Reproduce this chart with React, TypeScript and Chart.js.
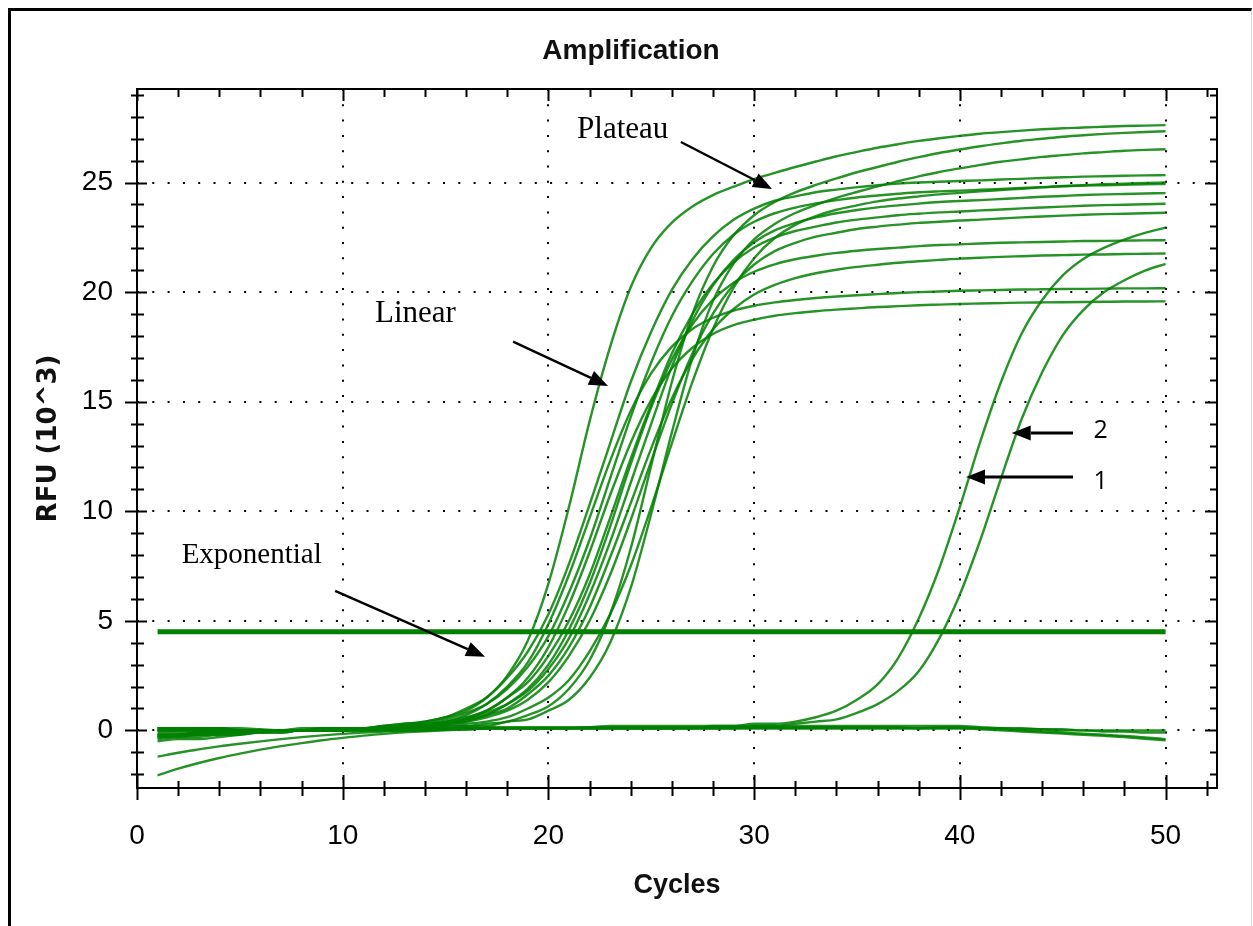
import { useEffect, useRef } from "react";
import { Chart, registerables } from "chart.js";

Chart.register(...registerables);

// ---------- data ----------
const CYCLES = [
  1, 2, 3, 4, 5, 6, 7, 8, 9, 10, 11, 12, 13, 14, 15, 16, 17, 18, 19, 20,
  21, 22, 23, 24, 25, 26, 27, 28, 29, 30, 31, 32, 33, 34, 35, 36, 37, 38, 39, 40,
  41, 42, 43, 44, 45, 46, 47, 48, 49, 50,
];

const THRESHOLD = 4.5;

const X_LABEL_TICKS = [0, 10, 20, 30, 40, 50];
const Y_LABEL_TICKS = [0, 5, 10, 15, 20, 25];
const X_TICK_MARKS = [0, 2, 4, 6, 8, 10, 12, 14, 16, 18, 20, 22, 24, 26, 28, 30, 32, 34, 36, 38, 40, 42, 44, 46, 48, 50, 52];
const Y_TICK_MARKS = [-2, -1, 0, 1, 2, 3, 4, 5, 6, 7, 8, 9, 10, 11, 12, 13, 14, 15, 16, 17, 18, 19, 20, 21, 22, 23, 24, 25, 26, 27, 28, 29];
const X_MIN = 0;
const X_MAX = 52.5;
const Y_MIN = -2.63;
const Y_MAX = 29.27;

const CURVE_01 = [
  -0.3, -0.2, -0.2, -0.1, -0.1, 0.0, 0.0, 0.1, 0.1, 0.1,
  0.1, 0.2, 0.3, 0.4, 0.6, 0.9, 1.5, 2.5, 4.1, 6.7,
  10.2, 14.1, 17.5, 20.22, 22.03, 23.17, 23.91, 24.43, 24.81, 25.16,
  25.44, 25.71, 25.96, 26.2, 26.4, 26.59, 26.75, 26.9, 27.02, 27.13,
  27.23, 27.3, 27.37, 27.43, 27.48, 27.51, 27.55, 27.58, 27.6, 27.62,
];
const CURVE_02 = [
  -0.1, -0.1, -0.1, -0.1, 0.0, 0.0, 0.0, 0.0, 0.1, 0.1,
  0.1, 0.2, 0.3, 0.4, 0.6, 1.0, 1.5, 2.4, 3.6, 5.3,
  7.6, 10.3, 13.1, 15.9, 18.2, 20.1, 21.5, 22.54, 23.3, 23.81,
  24.17, 24.37, 24.56, 24.68, 24.79, 24.88, 24.95, 25.0, 25.04, 25.07,
  25.1, 25.14, 25.17, 25.21, 25.24, 25.27, 25.29, 25.31, 25.33, 25.34,
];
const CURVE_03 = [
  0.1, 0.1, 0.1, 0.1, 0.0, 0.0, 0.0, 0.0, 0.1, 0.1,
  0.1, 0.2, 0.2, 0.3, 0.5, 0.8, 1.2, 1.9, 2.9, 4.3,
  6.3, 8.7, 11.5, 14.3, 16.8, 18.9, 20.5, 21.74, 22.62, 23.21,
  23.6, 23.86, 24.05, 24.2, 24.32, 24.41, 24.49, 24.56, 24.6, 24.63,
  24.67, 24.71, 24.75, 24.79, 24.83, 24.86, 24.88, 24.9, 24.92, 24.93,
];
const CURVE_04 = [
  -0.4, -0.3, -0.3, -0.2, -0.2, -0.1, -0.1, 0.0, 0.0, 0.1,
  0.1, 0.1, 0.2, 0.3, 0.4, 0.6, 0.9, 1.5, 2.2, 3.4,
  5.0, 7.1, 9.7, 12.4, 14.9, 17.2, 19.0, 20.38, 21.36, 22.04,
  22.49, 22.79, 22.99, 23.18, 23.31, 23.41, 23.51, 23.58, 23.64, 23.68,
  23.73, 23.77, 23.82, 23.86, 23.9, 23.94, 23.97, 23.99, 24.01, 24.03,
];
const CURVE_05 = [
  0.0, 0.0, 0.0, 0.0, 0.0, 0.0, 0.0, 0.0, 0.0, 0.1,
  0.1, 0.1, 0.1, 0.2, 0.3, 0.5, 0.7, 1.2, 1.9, 3.0,
  4.6, 6.7, 9.3, 12.15, 14.75, 16.92, 18.53, 19.66, 20.43, 20.93,
  21.27, 21.5, 21.66, 21.79, 21.89, 21.97, 22.03, 22.1, 22.15, 22.18,
  22.22, 22.25, 22.27, 22.29, 22.31, 22.33, 22.34, 22.35, 22.36, 22.37,
];
const CURVE_06 = [
  -0.2, -0.2, -0.1, -0.1, -0.1, 0.0, 0.0, 0.0, 0.0, 0.1,
  0.1, 0.1, 0.2, 0.3, 0.4, 0.7, 1.2, 2.0, 3.1, 4.85,
  7.1, 9.7, 12.3, 14.57, 16.3, 17.51, 18.32, 18.83, 19.16, 19.38,
  19.53, 19.64, 19.73, 19.8, 19.86, 19.91, 19.96, 20.0, 20.03, 20.06,
  20.08, 20.1, 20.12, 20.13, 20.14, 20.15, 20.16, 20.17, 20.17, 20.18,
];
const CURVE_07 = [
  0.1, 0.1, 0.1, 0.1, 0.0, 0.0, 0.0, 0.0, 0.0, 0.1,
  0.1, 0.1, 0.2, 0.2, 0.3, 0.5, 0.8, 1.2, 1.8, 2.8,
  4.2, 6.2, 8.6, 11.3, 14.0, 16.6, 18.7, 20.31, 21.47, 22.28,
  22.82, 23.16, 23.41, 23.6, 23.75, 23.87, 23.96, 24.04, 24.11, 24.16,
  24.2, 24.25, 24.3, 24.35, 24.39, 24.43, 24.46, 24.48, 24.5, 24.52,
];
const CURVE_08 = [
  -0.5, -0.4, -0.4, -0.3, -0.2, -0.1, -0.1, 0.0, 0.0, 0.0,
  0.1, 0.1, 0.1, 0.2, 0.3, 0.55, 0.9, 1.5, 2.4, 3.8,
  5.75, 8.13, 10.74, 13.13, 15.08, 16.51, 17.46, 18.09, 18.49, 18.74,
  18.92, 19.04, 19.13, 19.2, 19.26, 19.32, 19.36, 19.4, 19.43, 19.46,
  19.48, 19.5, 19.52, 19.53, 19.54, 19.55, 19.56, 19.57, 19.57, 19.58,
];
const CURVE_09 = [
  0.0, 0.0, 0.0, 0.0, 0.0, 0.0, 0.0, 0.0, 0.0, 0.0,
  0.1, 0.1, 0.1, 0.2, 0.3, 0.4, 0.6, 0.9, 1.4, 2.2,
  3.4, 5.0, 7.1, 9.6, 12.3, 14.9, 17.2, 19.02, 20.35, 21.26,
  21.87, 22.25, 22.53, 22.71, 22.88, 22.99, 23.08, 23.16, 23.21, 23.27,
  23.31, 23.36, 23.41, 23.45, 23.49, 23.53, 23.56, 23.58, 23.6, 23.62,
];
const CURVE_10 = [
  -0.3, -0.3, -0.2, -0.2, -0.1, -0.1, 0.0, 0.0, 0.0, 0.0,
  0.0, 0.1, 0.1, 0.2, 0.3, 0.4, 0.7, 1.0, 1.65, 2.5,
  3.8, 5.6, 7.9, 10.37, 12.88, 15.14, 16.95, 18.3, 19.23, 19.89,
  20.33, 20.64, 20.86, 21.02, 21.15, 21.25, 21.34, 21.41, 21.47, 21.53,
  21.57, 21.61, 21.64, 21.67, 21.69, 21.71, 21.72, 21.74, 21.75, 21.76,
];
const CURVE_11 = [
  0.1, 0.1, 0.1, 0.1, 0.0, 0.0, 0.0, 0.0, 0.0, 0.0,
  0.0, 0.1, 0.1, 0.1, 0.2, 0.3, 0.4, 0.6, 1.0, 1.5,
  2.3, 3.6, 5.3, 7.5, 10.2, 13.1, 15.9, 18.32, 20.2, 21.55,
  22.47, 23.07, 23.47, 23.76, 23.96, 24.14, 24.27, 24.37, 24.46, 24.53,
  24.6, 24.66, 24.72, 24.78, 24.84, 24.88, 24.92, 24.95, 24.98, 25.0,
];
const CURVE_12 = [
  -0.2, -0.2, -0.1, -0.1, -0.1, 0.0, 0.0, 0.0, 0.0, 0.1,
  0.1, 0.1, 0.1, 0.1, 0.2, 0.2, 0.3, 0.4, 0.7, 1.1,
  1.9, 3.2, 5.3, 8.3, 12.1, 15.9, 19.0, 21.17, 22.59, 23.51,
  24.11, 24.55, 24.89, 25.19, 25.47, 25.71, 25.95, 26.16, 26.35, 26.51,
  26.66, 26.79, 26.91, 27.0, 27.09, 27.16, 27.22, 27.27, 27.31, 27.34,
];
const CURVE_13 = [
  0.0, 0.0, 0.0, 0.0, 0.0, 0.0, 0.0, 0.0, 0.0, 0.0,
  0.1, 0.1, 0.1, 0.1, 0.1, 0.2, 0.2, 0.4, 0.5, 0.9,
  1.4, 2.4, 4.0, 6.5, 9.9, 13.6, 17.0, 19.6, 21.3, 22.41,
  23.11, 23.61, 23.98, 24.3, 24.57, 24.83, 25.06, 25.28, 25.48, 25.65,
  25.81, 25.95, 26.06, 26.17, 26.25, 26.33, 26.39, 26.45, 26.49, 26.52,
];
const LATE_1 = [
  -0.2, -0.2, -0.1, -0.1, 0.0, 0.0, 0.0, 0.0, 0.0, 0.0,
  0.0, 0.0, 0.0, 0.0, 0.1, 0.1, 0.1, 0.1, 0.1, 0.1,
  0.1, 0.1, 0.1, 0.1, 0.1, 0.1, 0.1, 0.2, 0.2, 0.3,
  0.3, 0.4, 0.6, 0.9, 1.4, 2.1, 3.3, 5.1, 7.4, 10.2,
  13.2, 15.9, 18.1, 19.64, 20.76, 21.51, 22.02, 22.4, 22.7, 22.94,
];
const LATE_2 = [
  0.0, 0.0, 0.0, 0.0, 0.0, 0.0, 0.0, 0.0, 0.0, 0.0,
  0.1, 0.1, 0.1, 0.1, 0.1, 0.1, 0.1, 0.1, 0.1, 0.1,
  0.1, 0.1, 0.1, 0.1, 0.1, 0.1, 0.1, 0.1, 0.1, 0.2,
  0.2, 0.3, 0.4, 0.5, 0.8, 1.2, 1.8, 2.7, 4.2, 6.2,
  8.7, 11.5, 14.2, 16.34, 18.03, 19.18, 19.99, 20.54, 20.98, 21.29,
];
const FLAT_1 = [
  -2.05, -1.75, -1.49, -1.26, -1.06, -0.88, -0.72, -0.58, -0.45, -0.34,
  -0.24, -0.16, -0.09, -0.04, 0.0, 0.05, 0.1, 0.1, 0.1, 0.1,
  0.1, 0.15, 0.15, 0.15, 0.15, 0.15, 0.15, 0.15, 0.15, 0.15,
  0.15, 0.15, 0.15, 0.15, 0.15, 0.15, 0.15, 0.1, 0.1, 0.1,
  0.05, 0.0, -0.05, -0.1, -0.15, -0.2, -0.25, -0.3, -0.38, -0.45,
];
const FLAT_2 = [
  -1.2, -1.02, -0.87, -0.73, -0.61, -0.5, -0.4, -0.31, -0.23, -0.16,
  -0.1, -0.05, -0.02, 0.0, 0.05, 0.05, 0.1, 0.1, 0.1, 0.1,
  0.1, 0.1, 0.1, 0.1, 0.1, 0.1, 0.1, 0.1, 0.1, 0.1,
  0.1, 0.1, 0.1, 0.1, 0.1, 0.1, 0.1, 0.1, 0.15, 0.15,
  0.1, 0.05, 0.0, -0.05, -0.1, -0.15, -0.2, -0.25, -0.32, -0.4,
];
const FLAT_3 = [
  -0.3, -0.25, -0.2, -0.15, -0.1, -0.05, 0.0, 0.0, 0.0, 0.0,
  0.0, 0.0, 0.0, 0.0, 0.05, 0.05, 0.1, 0.1, 0.1, 0.1,
  0.1, 0.1, 0.1, 0.1, 0.1, 0.1, 0.1, 0.1, 0.1, 0.1,
  0.1, 0.1, 0.1, 0.1, 0.1, 0.1, 0.1, 0.1, 0.1, 0.1,
  0.1, 0.1, 0.05, 0.05, 0.05, 0.0, 0.0, 0.0, 0.0, 0.0,
];
const FLAT_4 = [
  0.1, 0.1, 0.1, 0.1, 0.1, 0.05, 0.0, 0.0, 0.0, 0.0,
  0.0, 0.0, 0.0, 0.05, 0.1, 0.1, 0.15, 0.15, 0.15, 0.15,
  0.15, 0.15, 0.2, 0.2, 0.2, 0.2, 0.2, 0.2, 0.2, 0.2,
  0.2, 0.2, 0.2, 0.2, 0.2, 0.2, 0.2, 0.2, 0.2, 0.2,
  0.15, 0.1, 0.1, 0.05, 0.0, 0.0, -0.05, -0.05, -0.1, -0.1,
];

const SERIES = [
  FLAT_1, FLAT_2, FLAT_3, FLAT_4,
  CURVE_01, CURVE_02, CURVE_03, CURVE_04, CURVE_05, CURVE_06, CURVE_07,
  CURVE_08, CURVE_09, CURVE_10, CURVE_11, CURVE_12, CURVE_13,
  LATE_1, LATE_2,
];

// annotation texts (in data coordinates)
const NOTES = [
  { text: "Plateau", x: 21.39, y: 27.03, font: '31px "Liberation Serif", "Times New Roman", serif' },
  { text: "Linear", x: 11.57, y: 18.62, font: '31px "Liberation Serif", "Times New Roman", serif' },
  { text: "Exponential", x: 2.17, y: 7.62, font: '29px "Liberation Serif", "Times New Roman", serif' },
  { text: "2", x: 46.5, y: 13.33, font: '25px "Open Sans", "Noto Sans", sans-serif' },
  { text: "1", x: 46.5, y: 11.02, font: '25px "Open Sans", "Noto Sans", sans-serif' },
];
const ARROWS = [
  { x0: 26.44, y0: 26.85, x1: 30.87, y1: 24.71, w: 2.4 },
  { x0: 18.28, y0: 17.74, x1: 22.9, y1: 15.72, w: 2.4 },
  { x0: 9.63, y0: 6.37, x1: 16.92, y1: 3.36, w: 2.4 },
  { x0: 45.5, y0: 13.57, x1: 42.52, y1: 13.57, w: 3 },
  { x0: 45.5, y0: 11.56, x1: 40.3, y1: 11.56, w: 3 },
];

const GREEN = "rgba(0,128,0,0.85)";
const SANS = "'Liberation Sans', Arial, Helvetica, sans-serif";

const framePlugin = {
  id: "frameAndNotes",
  afterDraw(chart: any) {
    const { ctx, chartArea: a, scales } = chart;
    const xs = scales.x;
    const ys = scales.y;
    ctx.save();
    ctx.strokeStyle = "#000";
    ctx.fillStyle = "#000";
    ctx.lineWidth = 2;
    ctx.strokeRect(a.left, a.top, a.right - a.left, a.bottom - a.top);
    ctx.beginPath();
    for (const v of X_TICK_MARKS) {
      const px = Math.round(xs.getPixelForValue(v)) + 0.5;
      const major = v % 10 === 0;
      ctx.moveTo(px, a.bottom - (major ? 13 : 7));
      ctx.lineTo(px, a.bottom + (major ? 12 : 8));
      ctx.moveTo(px, a.top);
      ctx.lineTo(px, a.top + (major ? 12 : 8));
    }
    for (const v of Y_TICK_MARKS) {
      const py = Math.round(ys.getPixelForValue(v)) + 0.5;
      const major = v % 5 === 0;
      ctx.moveTo(a.left - (major ? 12 : 6), py);
      ctx.lineTo(a.left + (major ? 10 : 7), py);
      ctx.moveTo(a.right, py);
      ctx.lineTo(a.right - (major ? 12 : 7), py);
    }
    ctx.stroke();

    // annotation texts
    ctx.textAlign = "left";
    ctx.textBaseline = "alphabetic";
    for (const n of NOTES) {
      ctx.font = n.font;
      ctx.fillText(n.text, xs.getPixelForValue(n.x), ys.getPixelForValue(n.y));
    }
    // arrows
    for (const ar of ARROWS) {
      const x0 = xs.getPixelForValue(ar.x0);
      const y0 = ys.getPixelForValue(ar.y0);
      const x1 = xs.getPixelForValue(ar.x1);
      const y1 = ys.getPixelForValue(ar.y1);
      const ang = Math.atan2(y1 - y0, x1 - x0);
      const L = 19;
      const H = 7.5;
      const bx = x1 - L * Math.cos(ang);
      const by = y1 - L * Math.sin(ang);
      ctx.lineWidth = ar.w;
      ctx.beginPath();
      ctx.moveTo(x0, y0);
      ctx.lineTo(bx, by);
      ctx.stroke();
      ctx.beginPath();
      ctx.moveTo(x1, y1);
      ctx.lineTo(bx + H * Math.sin(ang), by - H * Math.cos(ang));
      ctx.lineTo(bx - H * Math.sin(ang), by + H * Math.cos(ang));
      ctx.closePath();
      ctx.fill();
    }
    ctx.restore();
  },
};

export default function App() {
  const ref = useRef<HTMLCanvasElement>(null);

  useEffect(() => {
    if (!ref.current) return;
    const datasets: any[] = SERIES.map((vals) => ({
      data: CYCLES.map((c, i) => ({ x: c, y: vals[i] })),
      borderColor: GREEN,
      borderWidth: 2.4,
      pointRadius: 0,
      fill: false,
      cubicInterpolationMode: "monotone",
    }));
    datasets.push({
      data: [
        { x: CYCLES[0], y: THRESHOLD },
        { x: CYCLES[CYCLES.length - 1], y: THRESHOLD },
      ],
      borderColor: "#008000",
      borderWidth: 5,
      pointRadius: 0,
      fill: false,
    });

    const chart = new Chart(ref.current, {
      type: "line",
      data: { datasets },
      options: {
        responsive: false,
        animation: false,
        events: [],
        layout: { padding: { left: 9, right: 0, top: 0, bottom: 0 } },
        plugins: {
          legend: { display: false },
          tooltip: { enabled: false },
          title: {
            display: true,
            text: "Amplification",
            color: "#111",
            font: { family: SANS, size: 28, weight: "bold", lineHeight: 1.2 },
            padding: { top: 34, bottom: 21.4 },
          },
        },
        scales: {
          x: {
            type: "linear",
            min: X_MIN,
            max: X_MAX,
            z: 1,
            afterBuildTicks: (s: any) => {
              s.ticks = X_LABEL_TICKS.map((v) => ({ value: v }));
            },
            afterFit: (s: any) => {
              s.height = 138;
            },
            grid: {
              color: (c: any) => (c.tick && c.tick.value === 0 ? "rgba(0,0,0,0)" : "#000"),
              lineWidth: 2,
              drawTicks: false,
            },
            border: { display: false, dash: [2, 13.3] },
            ticks: {
              padding: 31,
              color: "#000",
              font: { family: SANS, size: 28 },
              maxRotation: 0,
              autoSkip: false,
            },
            title: {
              display: true,
              text: "Cycles",
              color: "#111",
              font: { family: SANS, size: 27, weight: "bold", lineHeight: 1.2 },
              padding: { top: 0, bottom: 24 },
            },
          },
          y: {
            type: "linear",
            min: Y_MIN,
            max: Y_MAX,
            z: 1,
            afterBuildTicks: (s: any) => {
              s.ticks = Y_LABEL_TICKS.map((v) => ({ value: v }));
            },
            afterFit: (s: any) => {
              s.width = 128;
            },
            grid: { color: "#000", lineWidth: 2, drawTicks: false },
            border: { display: false, dash: [2, 13.3] },
            ticks: {
              padding: 24,
              color: "#000",
              font: { family: SANS, size: 28 },
              autoSkip: false,
            },
            title: {
              display: true,
              text: "RFU (10^3)",
              color: "#111",
              font: { family: "'DejaVu Sans', Verdana, sans-serif", size: 26, weight: "bold", lineHeight: 1.2 },
              padding: { top: 25, bottom: 0 },
            },
          },
          y2: {
            type: "linear",
            position: "right",
            display: true,
            min: 0,
            max: 1,
            ticks: { display: false },
            grid: { display: false, drawTicks: false },
            border: { display: false },
            afterFit: (s: any) => {
              s.width = 36;
            },
          },
        },
      } as any,
      plugins: [framePlugin],
    });
    return () => chart.destroy();
  }, []);

  return (
    <div
      style={{
        position: "absolute",
        left: 0,
        top: 0,
        width: 1253,
        height: 926,
        background: "#fff",
        overflow: "hidden",
      }}
    >
      <div
        style={{
          position: "absolute",
          left: 8,
          top: 8,
          width: 1244,
          height: 918,
          borderLeft: "3px solid #000",
          borderTop: "3px solid #000",
          borderRight: "1px solid #d6d6d6",
          boxSizing: "border-box",
        }}
      />
      <canvas
        ref={ref}
        width={1253}
        height={926}
        style={{ position: "absolute", left: 0, top: 0, display: "block" }}
      />
    </div>
  );
}
